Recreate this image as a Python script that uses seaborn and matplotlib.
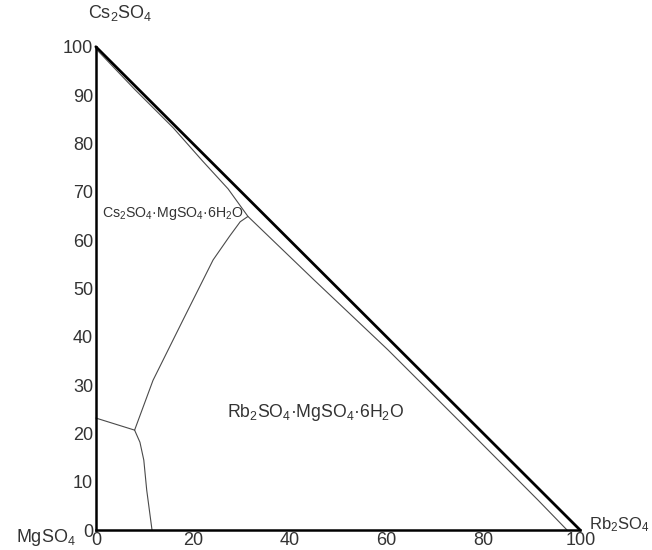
import numpy as np
import seaborn as sns
import matplotlib.pyplot as plt

# phase diagram data, mass fraction %
# x = Rb2SO4, y = Cs2SO4
hyp_x = [0, 100]
hyp_y = [100, 0]

# saturation curve near the Cs2SO4-Rb2SO4 side
sat_x = [0, 8, 16, 22, 27.3, 31.4, 45, 60.3, 75, 91.3, 97.3]
sat_y = [99.6, 91.2, 83.2, 76.4, 70.6, 64.9, 51.8, 37.3, 22.6, 6.2, 0]

# boundary Cs2SO4.MgSO4.6H2O / Rb2SO4.MgSO4.6H2O
cs_x = [31.4, 29.8, 27.6, 24.2, 18.0, 11.8, 8.0]
cs_y = [64.9, 63.8, 60.8, 55.9, 43.5, 31.0, 20.7]

# MgSO4.6H2O (left) boundaries
mg1_x = [0, 8.0]
mg1_y = [23.2, 20.7]
mg2_x = [8.0, 9.1, 9.9, 10.5, 11.6]
mg2_y = [20.7, 18.2, 14.5, 8.3, 0]

xticks = [0, 20, 40, 60, 80, 100]
yticks = [0, 10, 20, 30, 40, 50, 60, 70, 80, 90, 100]

sns.set_style("white")
plt.rcParams['font.family'] = ['Liberation Sans', 'DejaVu Sans']
plt.rcParams['mathtext.fontset'] = 'custom'
plt.rcParams['mathtext.rm'] = 'Liberation Sans'
plt.rcParams['mathtext.it'] = 'Liberation Sans'
plt.rcParams['mathtext.default'] = 'regular'

fig = plt.figure(figsize=(6.52, 5.5), dpi=100)
ax = fig.add_axes([0.147, 0.036, 0.743, 0.879])

thin = dict(color='#4a4a4a', linewidth=0.8, sort=False, estimator=None, ax=ax)
sns.lineplot(x=hyp_x, y=hyp_y, color='black', linewidth=2.0, sort=False, estimator=None, ax=ax)
sns.lineplot(x=sat_x, y=sat_y, **thin)
sns.lineplot(x=cs_x, y=cs_y, **thin)
sns.lineplot(x=mg1_x, y=mg1_y, **thin)
sns.lineplot(x=mg2_x, y=mg2_y, **thin)
for ln in ax.lines:
    ln.set_clip_on(False)

ax.set_xlim(0, 100)
ax.set_ylim(0, 100)
ax.set_xticks(xticks)
ax.set_yticks(yticks)
ax.tick_params(direction='in', length=4, width=1.5, labelsize=13,
               labelcolor='#333333', pad=2)
ax.tick_params(axis='x', pad=1)
sns.despine(ax=ax)
for s in ['left', 'bottom']:
    ax.spines[s].set_linewidth(1.8)
    ax.spines[s].set_color('black')

tc = '#333333'
ax.text(5, 107, r'Cs$_2$SO$_4$', fontsize=13, color=tc, ha='center', va='center')
ax.text(-10.3, -1.5, r'MgSO$_4$', fontsize=13, color=tc, ha='center', va='center', clip_on=False)
ax.text(101.8, 1.2, r'Rb$_2$SO$_4$', fontsize=12, color=tc, ha='left', va='center')
ax.text(1.2, 65.5, r'Cs$_2$SO$_4$·MgSO$_4$·6H$_2$O', fontsize=10.2, color=tc,
        ha='left', va='center')
ax.text(27, 24.4, r'Rb$_2$SO$_4$·MgSO$_4$·6H$_2$O', fontsize=12.7, color=tc,
        ha='left', va='center')

fig.savefig('out.png', dpi=100)
